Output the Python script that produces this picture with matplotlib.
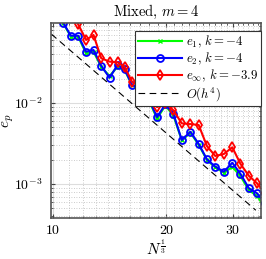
import numpy as np
import matplotlib
matplotlib.use("Agg")
import matplotlib.pyplot as plt
from matplotlib.ticker import LogLocator, FixedLocator, FixedFormatter, NullFormatter

plt.rcParams["font.family"] = "serif"
plt.rcParams["font.serif"] = ["cmr10", "DejaVu Serif"]
plt.rcParams["mathtext.fontset"] = "cm"
plt.rcParams["axes.formatter.use_mathtext"] = True

# N^(1/3) values
n13 = [10.65, 11.15, 11.66, 12.24, 12.81, 13.43, 14.13, 14.84, 15.49, 16.24,
       17.06, 17.92, 18.90, 19.88, 20.90, 21.99, 23.18, 24.39, 25.65, 26.99,
       28.45, 29.96, 31.50, 33.17, 34.87, 36.6]

e1 = [0.096, 0.066, 0.066, 0.041, 0.043, 0.028, 0.0215, 0.028, 0.0255, 0.0165,
      0.0150, 0.0112, 0.0064, 0.0093, 0.0070, 0.00345, 0.0043, 0.00305, 0.00198, 0.00160,
      0.00138, 0.00163, 0.00125, 0.00084, 0.00071, 0.00051]
e2 = [0.097, 0.0678, 0.0678, 0.043, 0.0451, 0.0288, 0.0205, 0.0294, 0.0263, 0.0165,
      0.0155, 0.0115, 0.0067, 0.0096, 0.0073, 0.00349, 0.00442, 0.00312, 0.00202, 0.00164,
      0.00142, 0.00183, 0.00133, 0.000885, 0.000767, 0.000582]
einf = [0.16, 0.125, 0.0938, 0.060, 0.0692, 0.0357, 0.0324, 0.0318, 0.0281, 0.018,
        0.017, 0.0125, 0.0089, 0.0101, 0.0081, 0.0056, 0.0055, 0.00535, 0.00294, 0.00222,
        0.00235, 0.00284, 0.00177, 0.00126, 0.00102, 0.00077]

ref_x = [9.9, 34.6]
ref_c = 680.0

x_ticks = [10, 20, 30]
x_ticklabels = ["10", "20", "30"]

fig = plt.figure(figsize=(2.66, 2.59), dpi=100)
ax = fig.add_axes([0.192, 0.158, 0.789, 0.753])

ax.plot(n13, e1, color=(0, 1, 0), lw=1.5, marker="x", ms=3, mew=1.0, label=r"$e_1,\, k = -4$")
ax.plot(n13, e2, color="b", lw=1.5, marker="o", ms=5, mfc="none", mew=1.3, label=r"$e_2,\, k = -4$")
ax.plot(n13, einf, color="r", lw=1.5, marker="d", ms=5, mfc="none", mew=1.3, label=r"$e_\infty,\, k = -3.9$")
rx = np.array(ref_x)
ax.plot(rx, ref_c * rx ** -4.0, "k--", lw=0.8, dashes=(6, 4), label=r"$O(h^4)$")

ax.set_xscale("log")
ax.set_yscale("log")
ax.set_xlim(9.88, 35.7)
ax.set_ylim(3.8e-4, 0.097)

ax.xaxis.set_major_locator(FixedLocator(x_ticks))
ax.xaxis.set_major_formatter(FixedFormatter(x_ticklabels))
ax.xaxis.set_minor_locator(FixedLocator([11, 12, 13, 14, 15, 16, 17, 18, 19, 21, 22, 23, 24, 25,
                                         26, 27, 28, 29, 31, 32, 33, 34, 35]))
ax.xaxis.set_minor_formatter(NullFormatter())
ax.yaxis.set_major_locator(LogLocator(base=10))
ax.yaxis.set_minor_locator(LogLocator(base=10, subs=np.arange(2, 10)))
ax.yaxis.set_minor_formatter(NullFormatter())

ax.grid(True, which="major", color="#dddddd", lw=0.8)
ax.grid(True, which="minor", color="#bbbbbb", lw=0.6, ls=(0, (1, 2)))
ax.tick_params(which="both", direction="in", top=True, right=True, labelsize=10)
ax.tick_params(which="major", length=3, color="#444444", pad=5)
ax.tick_params(axis="y", which="major", pad=6)
ax.tick_params(which="minor", length=1.5, color="#444444")
for s in ax.spines.values():
    s.set_color("#555555")
    s.set_linewidth(1.2)

ax.set_title(r"Mixed, $m = 4$", fontsize=10.5, pad=5)
ax.set_xlabel(r"$N^{\frac{1}{3}}$", fontsize=11, labelpad=1)
ax.set_ylabel(r"$e_p$", fontsize=11)
ax.yaxis.set_label_coords(-0.165, 0.5)

leg = ax.legend(loc="upper right", bbox_to_anchor=(1.0, 0.96), borderaxespad=0.0,
                fontsize=9.2, handlelength=3.4, fancybox=False, framealpha=1.0,
                edgecolor="#333333", borderpad=0.25, labelspacing=0.05, handletextpad=0.3)
leg.get_frame().set_linewidth(0.8)

fig.savefig("out.png", dpi=100)
